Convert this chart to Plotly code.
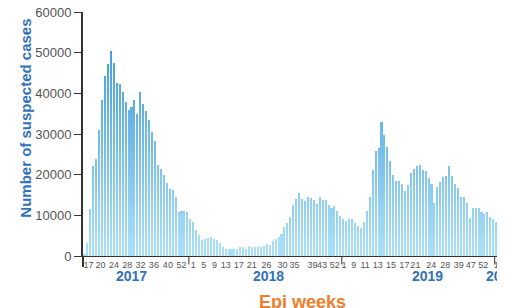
import plotly.graph_objects as go
import numpy as np

# ---------------- data ----------------
years = ["2017", "2018", "2019", "2020"]

cases_2017 = [500, 3200, 11600, 22100, 23800, 31100, 38400, 44300, 47100, 50200,
              47500, 42500, 42300, 40400, 37900, 36000, 36700, 38300, 34800, 40100,
              37500, 35700, 33500, 30600, 28200, 22500, 21500, 19900, 17900, 16400,
              16300, 14400, 10700, 11100, 11000, 10700]
cases_2018 = [9000, 8400, 6400, 5100, 3900, 4300, 4400, 4600, 4300, 3900,
              3300, 2100, 1800, 1800, 1800, 1700, 1600, 2100, 2100, 1600,
              2400, 2100, 2300, 2100, 2300, 2400, 2900, 2600, 3700, 4200,
              4600, 5400, 7200, 8200, 9700, 12500, 14000, 15400, 13900, 13500,
              14400, 14200, 13800, 12800, 14400, 13800, 13800, 12500, 11900, 12300,
              11100, 9800]
cases_2019 = [9200, 8700, 9100, 9100, 8200, 7500, 7000, 8300, 11100, 14400,
              21100, 25900, 26500, 32800, 29800, 26700, 23400, 20000, 18400, 18400,
              17700, 16000, 17500, 20400, 21300, 22100, 22400, 21100, 20900, 19100,
              17600, 13000, 16900, 18200, 19400, 19700, 22100, 19700, 17700, 16700,
              14500, 14500, 13000, 9300, 11800, 11800, 11800, 10700, 10300, 10700,
              9600, 9100]
cases_2020 = [8300, 7700, 8300, 7900]

week_tick_labels = ["17", "20", "24", "28", "32", "36", "40", "52",
                    "1", "5", "9", "13", "17", "21", "26", "30", "35", "39", "43", "52",
                    "1", "9", "11", "13", "15", "17", "21", "24", "28", "39", "47", "52",
                    "1", "5"]
y_ticks = [0, 10000, 20000, 30000, 40000, 50000, 60000]

# ---------------- layout constants ----------------
week_tick_pos = [1.37, 5.45, 10.0, 14.52, 19.04, 23.6, 28.36, 32.98,
                 36.96, 40.6, 44.2, 48.07, 52.49, 56.91, 61.87, 67.31, 71.39, 77.51, 80.8, 85.12,
                 88.28, 91.58, 95.42, 99.74, 104.26, 108.78, 112.52, 117.96, 122.72, 127.27, 131.35, 135.63,
                 140.05, 142.43]
year_label_pos = [15.88, 62.7, 116.5, 141.9]

series = [cases_2017, cases_2018, cases_2019, cases_2020]
values = np.array(sum(series, []), dtype=float)
x = np.arange(len(values))

# year boundaries derived from series lengths
bounds = np.cumsum([len(s) for s in series])[:-1] - 0.5

fig = go.Figure()

# vertical gradient: stack bands with interpolated colours
band = 2500
c0 = np.array([172, 224, 248])
c1 = np.array([64, 156, 221])
top = 52500
for lo in range(0, top, band):
    seg = np.clip(values - lo, 0, band)
    t = (lo + band / 2) / top
    c = (c0 + (c1 - c0) * t).round().astype(int)
    fig.add_trace(go.Bar(
        x=x, y=seg, marker=dict(color=f"rgb({c[0]},{c[1]},{c[2]})", line=dict(width=0)),
        hoverinfo="skip", showlegend=False))

blue = "#3371b9"
font_family = "Liberation Sans, Arial, sans-serif"

# the page body adds an 8px offset at top-left; compensate in size/margins
fig.update_layout(
    width=497, height=300,
    margin=dict(l=75, r=0, t=4, b=52),
    paper_bgcolor="white", plot_bgcolor="white",
    barmode="stack", bargap=0.3,
    font=dict(family=font_family),
    showlegend=False,
    xaxis=dict(range=[-0.5, 143.0], showgrid=False, zeroline=False,
               showline=True, linecolor="#333", linewidth=1,
               tickmode="array", tickvals=week_tick_pos, ticktext=week_tick_labels,
               ticks="", tickangle=0, tickfont=dict(size=9, color="#555"),
               ticklabeloverflow="allow", automargin=False),
    yaxis=dict(range=[0, 60000], tickvals=y_ticks, tickformat="d",
               showgrid=False, zeroline=False, showline=True, linecolor="#333",
               linewidth=2, ticks="outside", ticklen=7, tickcolor="#333", tickwidth=1,
               tickfont=dict(size=13, color="#555"),
               ticklabeloverflow="allow", automargin=False),
)

shapes = []
for b in bounds:
    shapes.append(dict(type="line", xref="x", yref="paper", x0=b, x1=b, y0=0, y1=-0.035,
                       line=dict(color="#333", width=1)))
shapes.append(dict(type="line", xref="paper", yref="paper", x0=0, x1=0, y0=-0.045, y1=0,
                   line=dict(color="#333", width=2)))
fig.update_layout(shapes=shapes)

annotations = []
for yr, px in zip(years, year_label_pos):
    annotations.append(dict(text=yr, x=px, xref="x", y=-0.082, yref="paper",
                            showarrow=False, xanchor="center", yanchor="middle",
                            font=dict(size=14, color=blue, weight="bold")))
annotations.append(dict(text="Epi weeks", x=0.5206, xref="paper", y=-0.1885, yref="paper",
                        showarrow=False, xanchor="center", yanchor="middle",
                        font=dict(size=18, color="#ef7d2c", weight="bold")))
annotations.append(dict(text="Number of suspected cases", x=-0.137, xref="paper", y=0.5635,
                        yref="paper", textangle=-90, showarrow=False,
                        xanchor="center", yanchor="middle",
                        font=dict(size=15, color=blue, weight="bold")))
fig.update_layout(annotations=annotations)

fig.write_html("out.html")
